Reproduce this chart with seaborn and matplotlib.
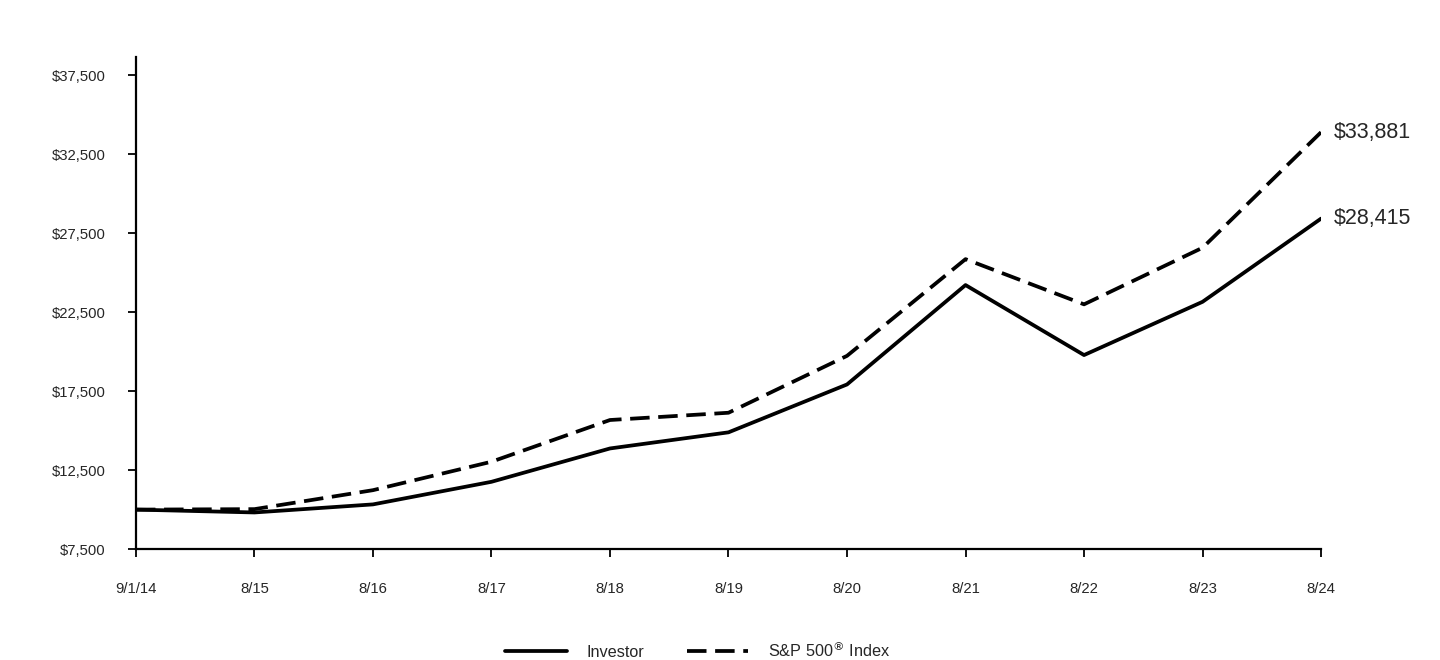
import pandas as pd
import seaborn as sns
import matplotlib.pyplot as plt

periods = ['9/1/14', '8/15', '8/16', '8/17', '8/18', '8/19', '8/20', '8/21', '8/22', '8/23', '8/24']
investor = [10000, 9820, 10330, 11760, 13870, 14890, 17920, 24210, 19780, 23150, 28415]
sp500 = [10000, 10030, 11230, 13030, 15670, 16130, 19730, 25850, 22990, 26570, 33881]
y_ticks = [7500, 12500, 17500, 22500, 27500, 32500, 37500]

df = pd.DataFrame({
    'x': list(range(len(periods))) * 2,
    'value': investor + sp500,
    'series': ['Investor'] * len(periods) + ['S&P 500$^{®}$ Index'] * len(periods),
})

sns.set_style('white')
plt.rcParams['font.family'] = ['Liberation Sans', 'DejaVu Sans']

fig = plt.figure(figsize=(14.4, 6.6), dpi=100)
ax = fig.add_axes([0.0944, 0.168, 0.823, 0.7456])

sns.lineplot(data=df, x='x', y='value', style='series', color='black',
             linewidth=2.7, dashes={'Investor': '', 'S&P 500$^{®}$ Index': (5.2, 2.3)},
             ax=ax)

ax.set_xlim(0, len(periods) - 1)
ax.set_ylim(7500, 38640)
ax.set_xticks(range(len(periods)))
ax.set_xticklabels(periods)
ax.set_yticks(y_ticks)
ax.set_yticklabels([f'${v:,}' for v in y_ticks])
ax.set_xlabel('')
ax.set_ylabel('')

for side in ['top', 'right']:
    ax.spines[side].set_visible(False)
for side in ['left', 'bottom']:
    ax.spines[side].set_linewidth(1.6)
    ax.spines[side].set_color('black')

ax.tick_params(axis='both', direction='out', length=6, width=1.3, color='black',
               labelsize=10.7, bottom=True, left=True)
ax.tick_params(axis='x', pad=18)
ax.tick_params(axis='y', pad=16)

ax.annotate(f'${investor[-1]:,}', xy=(len(periods) - 1, investor[-1]), xytext=(9, 0),
            textcoords='offset points', va='center', ha='left', fontsize=15.5)
ax.annotate(f'${sp500[-1]:,}', xy=(len(periods) - 1, sp500[-1]), xytext=(9, 0),
            textcoords='offset points', va='center', ha='left', fontsize=15.5)

leg = ax.legend(loc='lower center', bbox_to_anchor=(0.474, -0.255), ncol=2, frameon=False,
                fontsize=11.7, handlelength=3.8, handletextpad=1.2, columnspacing=2.6)
for line in leg.get_lines():
    line.set_linewidth(2.7)

fig.savefig('out.png', dpi=100)
